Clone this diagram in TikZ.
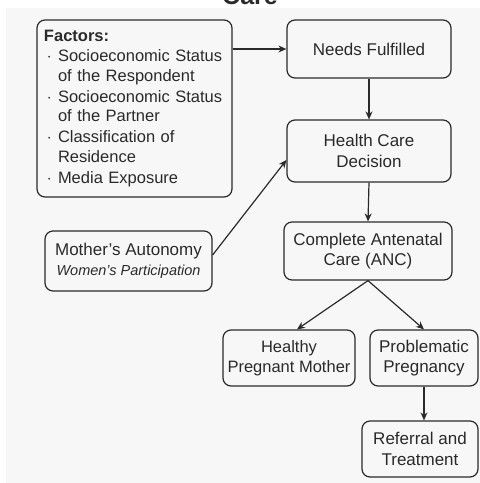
\documentclass[tikz,border=0pt]{standalone}
\usepackage{fontspec}
\setmainfont{Liberation Sans}
\usetikzlibrary{arrows.meta,calc}
\definecolor{bgc}{HTML}{F7F7F7}
\definecolor{ink}{HTML}{2A2A2A}
\begin{document}
\begin{tikzpicture}[x=1pt,y=-1pt,
  box/.style={draw=ink,line width=1.2pt,rounded corners=8pt,fill=bgc,align=center,
    inner sep=2pt,font=\fontsize{17}{20.5}\selectfont,text=ink},
  arr/.style={draw=ink,line width=1.2pt,-{Stealth[length=8pt,width=7pt]}}]
\useasboundingbox (0,0) rectangle (480,483);
\fill[bgc] (6,8) rectangle (480,483);
\node[anchor=base,font=\bfseries\fontsize{25}{25}\selectfont,text=ink] (title) at (250,4) {Care};
\node[box,minimum width=195pt,minimum height=177pt,text width=181pt,align=left,
  font=\fontsize{16.5}{19.5}\selectfont] (factors) at (134.5,108.5)
  {\textbf{Factors:}\\[1pt]
   \makebox[14pt][l]{\,$\cdot$}Socioeconomic Status\\
   \hspace*{14pt}of the Respondent\\[1.5pt]
   \makebox[14pt][l]{\,$\cdot$}Socioeconomic Status\\
   \hspace*{14pt}of the Partner\\[1.5pt]
   \makebox[14pt][l]{\,$\cdot$}Classification of\\
   \hspace*{14pt}Residence\\[1.5pt]
   \makebox[14pt][l]{\,$\cdot$}Media Exposure};
\node[box,minimum width=164pt,minimum height=58pt] (needs) at (369,49) {Needs Fulfilled};
\node[box,minimum width=164pt,minimum height=62pt] (hcd) at (369,151) {Health Care\\Decision};
\node[box,minimum width=168pt,minimum height=58pt] (anc) at (368,251) {Complete Antenatal\\Care (ANC)};
\node[box,minimum width=167pt,minimum height=60pt] (mother) at (128.5,261)
  {Mother's Autonomy\\[-1pt]{\itshape\fontsize{14.5}{17}\selectfont Women's Participation}};
\node[box,minimum width=132pt,minimum height=56pt,font=\fontsize{16.5}{20.5}\selectfont] (healthy) at (289,358) {Healthy\\Pregnant Mother};
\node[box,minimum width=108pt,minimum height=56pt] (prob) at (424,358) {Problematic\\Pregnancy};
\node[box,minimum width=116pt,minimum height=56pt] (ref) at (420,449) {Referral and\\Treatment};
\draw[arr] (needs.west -| factors.east) -- (needs.west);
\draw[arr] (needs.south) -- (hcd.north);
\draw[arr] (hcd.south) -- (anc.north);
\draw[arr] ([yshift=6pt]mother.east) -- ([yshift=-9pt]hcd.west);
\draw[arr] (anc.south) -- ([xshift=8pt]healthy.north);
\draw[arr] (anc.south) -- (prob.north);
\draw[arr] (prob.south) -- (prob.south |- ref.north);
\end{tikzpicture}
\end{document}
